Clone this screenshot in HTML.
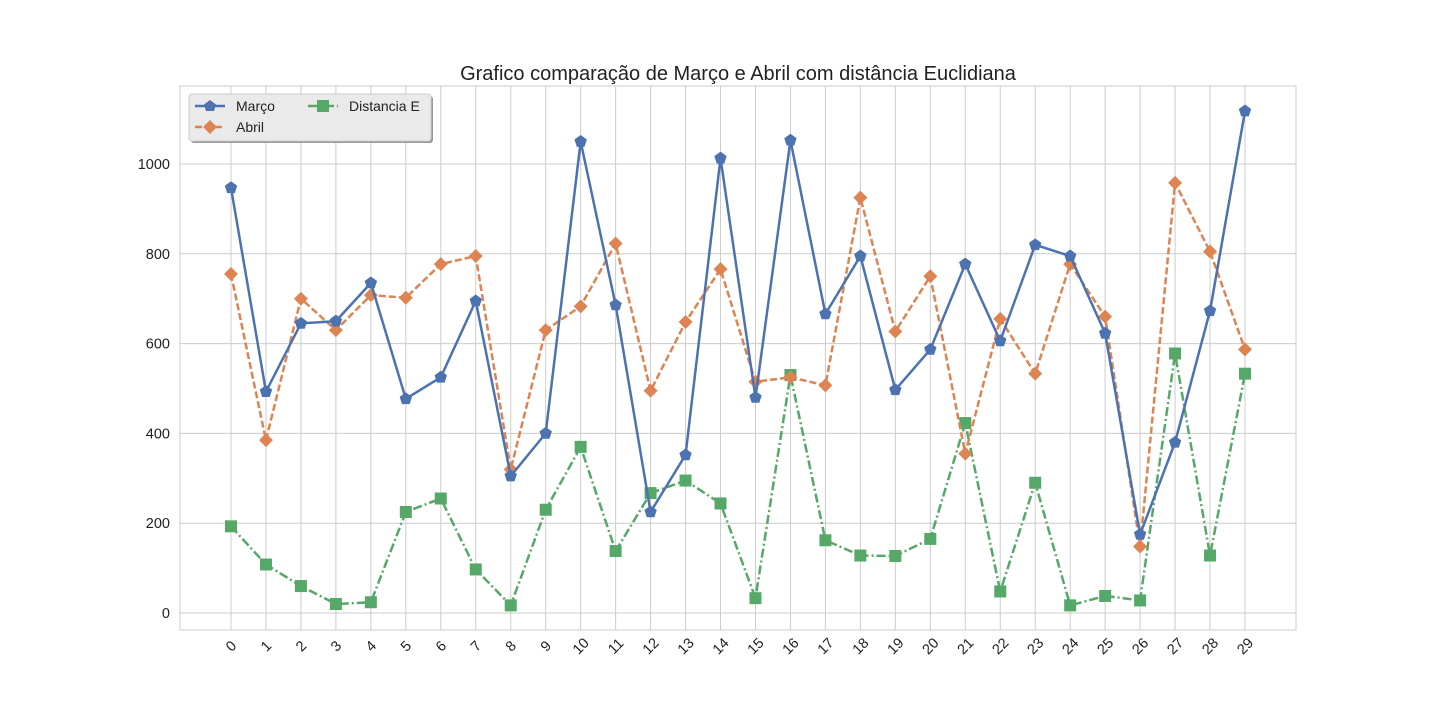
<!DOCTYPE html>
<html><head><meta charset="utf-8"><style>
body{margin:0;background:#fff;}
svg{font-family:"Liberation Sans","DejaVu Sans",sans-serif;}
</style></head><body>
<svg id="chart" width="1440" height="720">
<rect x="180" y="86" width="1116" height="544" fill="#fff" stroke="#ccc"/>
<g id="grid"></g><g id="series"></g><g id="ticks"></g>
<text x="738" y="80" text-anchor="middle" font-size="20" fill="#222">Grafico comparação de Março e Abril com distância Euclidiana</text>
<g>
<rect x="191" y="96" width="242" height="47" rx="3" fill="#999"/>
<rect x="189" y="94" width="242" height="47" rx="3" fill="#eaeaea" stroke="#ccc"/>
<g><line x1="195" y1="106" x2="225" y2="106" stroke="#4c72b0" stroke-width="2.5"/><polygon points="210,100 216,104.5 214,111 206,111 204,104.5" fill="#4c72b0"/><text x="236" y="111" font-size="14" fill="#222">Março</text></g>
<g><line x1="195" y1="127" x2="225" y2="127" stroke="#dd8452" stroke-width="2.5" stroke-dasharray="7,3"/><polygon points="210,120 217,127 210,134 203,127" fill="#dd8452"/><text x="236" y="132" font-size="14" fill="#222">Abril</text></g>
<g><line x1="308" y1="106" x2="338" y2="106" stroke="#55a868" stroke-width="2.5" stroke-dasharray="9,3,2,3"/><rect x="317" y="100" width="12" height="12" fill="#55a868"/><text x="349" y="111" font-size="14" fill="#222">Distancia E</text></g>
</g>
</svg>
<script>
const categories=[0,1,2,3,4,5,6,7,8,9,10,11,12,13,14,15,16,17,18,19,20,21,22,23,24,25,26,27,28,29];
const marco=[947,493,645,650,735,477,525,695,305,400,1050,686,225,352,1013,480,1053,666,795,497,587,777,606,820,795,623,175,380,673,1118];
const abril=[755,385,700,630,708,702,777,795,320,630,683,823,495,648,766,515,525,507,925,627,750,355,655,533,777,660,148,958,805,587];
const distancia=[193,108,60,20,24,225,255,97,17,230,370,138,267,295,244,33,530,162,128,127,165,423,48,290,17,38,28,578,128,533];
const yTicks=[0,200,400,600,800,1000];
const NS="http://www.w3.org/2000/svg";
const xs=i=>231+i*(1014/29), ys=v=>613-v*0.449;
function mk(t,a,p){const e=document.createElementNS(NS,t);for(const k in a)e.setAttribute(k,a[k]);p.appendChild(e);return e;}
const grid=document.getElementById('grid'),ticks=document.getElementById('ticks'),ser=document.getElementById('series');
categories.forEach((c,i)=>{const x=xs(i);
 const l=mk('line',{x1:x,x2:x,y1:86,y2:630,stroke:'#ccc'},grid);
 
 
 const t=mk('text',{x:x,y:651,'font-size':14.5,fill:'#222','text-anchor':'middle',transform:`rotate(-45 ${x} 646)`},ticks);
 t.textContent=c;
 
 });
yTicks.forEach(v=>{const y=ys(v);
 const l=mk('line',{x1:180,x2:1296,y1:y,y2:y,stroke:'#ccc'},grid);
 
 
 const t=mk('text',{x:170,y:y+5,'font-size':14.5,fill:'#222','text-anchor':'end'},ticks);
 t.textContent=v;
 
 });
function series(data,color,dash,shape,name){
 const g=mk('g',{},ser);
 
 
 const p=mk('polyline',{points:data.map((v,i)=>xs(i)+','+ys(v)).join(' '),fill:'none',stroke:color,'stroke-width':2.5,'stroke-dasharray':dash},g);
 data.forEach((v,i)=>{const x=xs(i),y=ys(v);let m;
  if(shape==='pent')m=mk('polygon',{points:`${x},${y-6.5} ${x+6.2},${y-2} ${x+3.8},${y+5.3} ${x-3.8},${y+5.3} ${x-6.2},${y-2}`,fill:color},g);
  else if(shape==='dia')m=mk('polygon',{points:`${x},${y-7} ${x+7},${y} ${x},${y+7} ${x-7},${y}`,fill:color},g);
  else m=mk('rect',{x:x-6,y:y-6,width:12,height:12,fill:color},g);
  
  });}
series(distancia,'#55a868','9,3,2,3','sq','series-distancia');
series(abril,'#dd8452','7,3','dia','series-abril');
series(marco,'#4c72b0','none','pent','series-marco');
</script>
</body></html>
